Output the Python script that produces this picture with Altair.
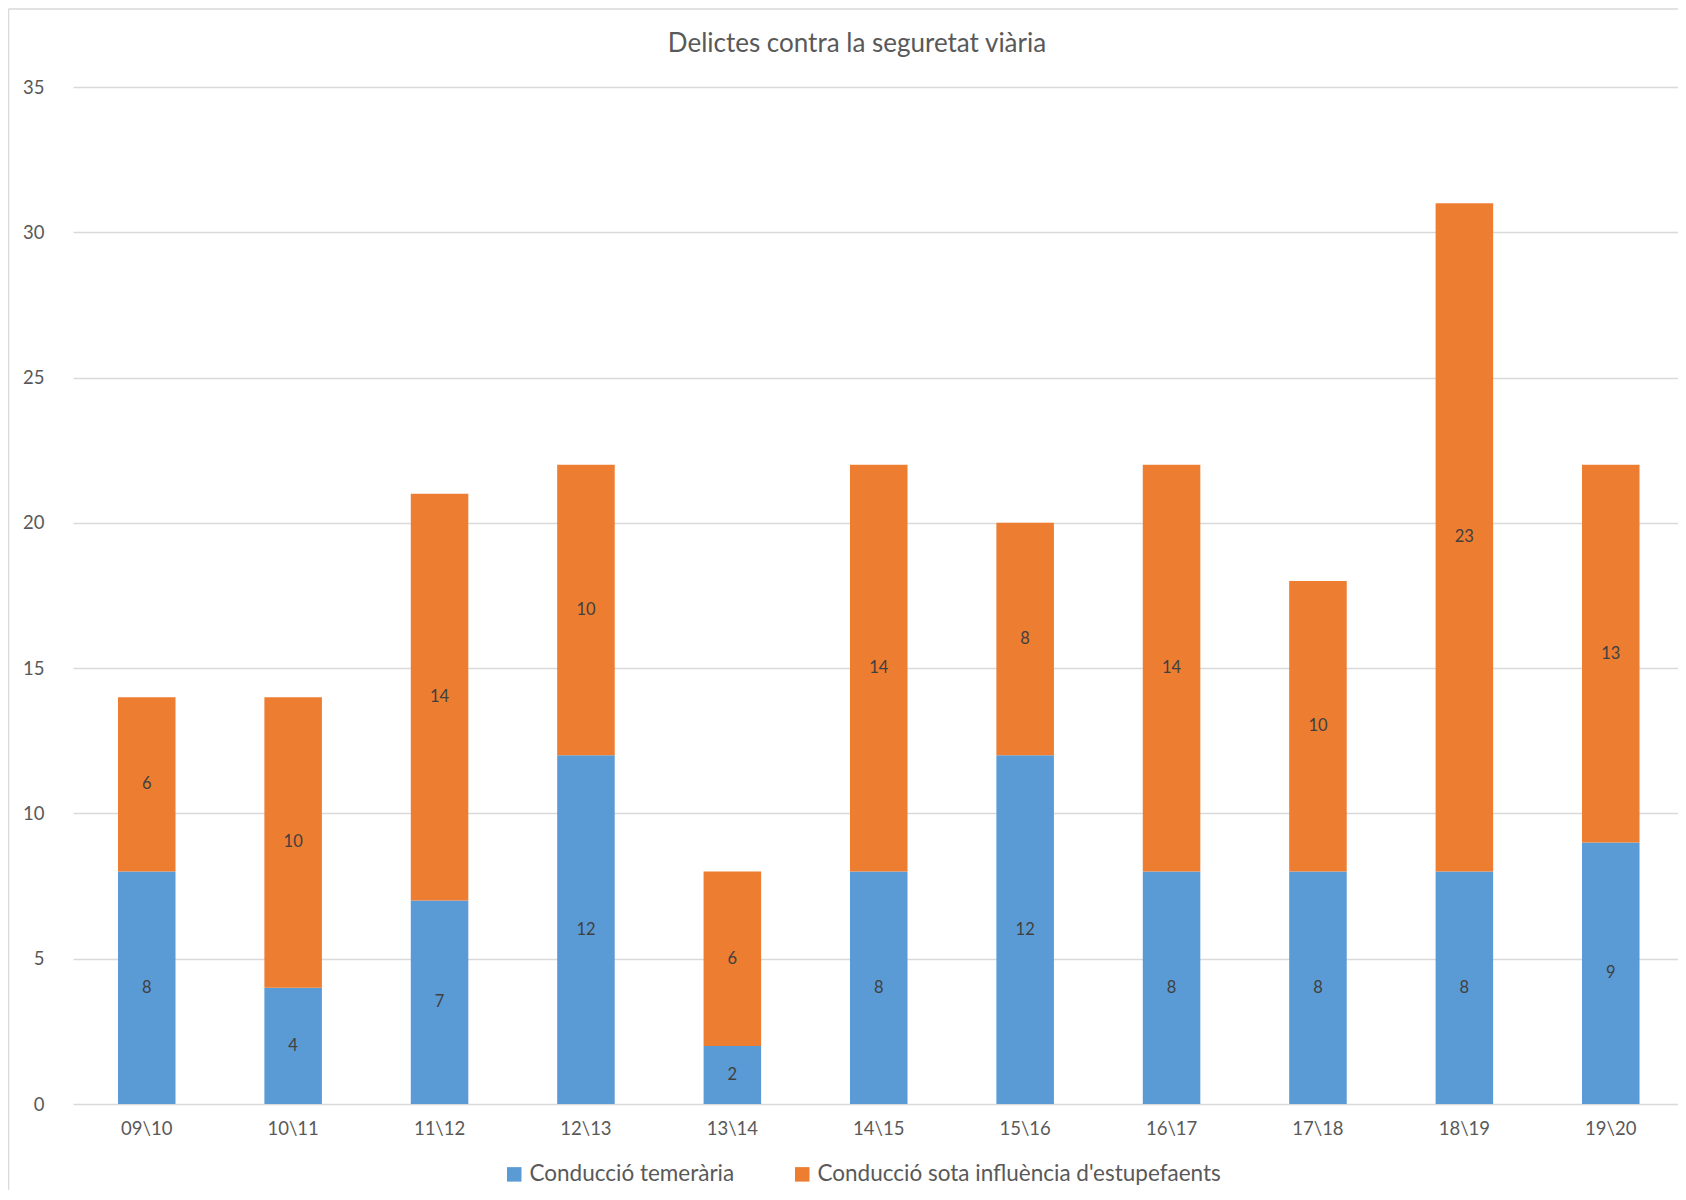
import altair as alt
import pandas as pd

categories = ["09\\10", "10\\11", "11\\12", "12\\13", "13\\14", "14\\15",
              "15\\16", "16\\17", "17\\18", "18\\19", "19\\20"]
temeraria = [8, 4, 7, 12, 2, 8, 12, 8, 8, 8, 9]
estupefaents = [6, 10, 14, 10, 6, 14, 8, 14, 10, 23, 13]
series_names = ["Conducció temerària", "Conducció sota influència d'estupefaents"]
colors = ["#5B9BD5", "#ED7D31"]
title_text = "Delictes contra la seguretat viària"

rows = []
for i, c in enumerate(categories):
    rows.append({"cat": c, "serie": series_names[0], "val": temeraria[i], "ord": 0,
                 "base": 0})
    rows.append({"cat": c, "serie": series_names[1], "val": estupefaents[i], "ord": 1,
                 "base": temeraria[i]})
df = pd.DataFrame(rows)
df["mid"] = df["base"] + df["val"] / 2

FONT = "Lato"
W, H = 1605, 1017

xscale = alt.Scale(domain=categories, paddingInner=0.607, paddingOuter=0.285, align=0.539)
yscale = alt.Scale(domain=[0, 35], nice=False)

bars = alt.Chart(df).mark_bar().encode(
    x=alt.X("cat:N", scale=xscale, sort=categories,
            axis=alt.Axis(title=None, labelAngle=0, labelFontSize=18.5, labelColor="#595959",
                          labelFont=FONT, ticks=False, domain=False, labelPadding=15)),
    y=alt.Y("sum(val):Q", stack="zero", scale=yscale,
            axis=alt.Axis(title=None, values=list(range(0, 36, 5)), labelFontSize=18.5,
                          labelColor="#595959", labelFont=FONT, ticks=False, domain=False,
                          grid=True, gridColor="#D9D9D9", gridWidth=1.3, labelPadding=29)),
    color=alt.Color("serie:N", scale=alt.Scale(domain=series_names, range=colors),
                    legend=alt.Legend(title=None, orient="none", direction="horizontal",
                                      legendX=430, legendY=1076, symbolType="square",
                                      symbolSize=210, symbolStrokeWidth=0, labelLimit=0,
                                      labelFontSize=22.5, labelFont=FONT, labelColor="#595959",
                                      columnPadding=56, symbolOffset=0, labelOffset=4)),
    order=alt.Order("ord:Q"),
)

labels = alt.Chart(df).mark_text(font=FONT, fontSize=16.5, color="#404040").encode(
    x=alt.X("cat:N", scale=xscale, sort=categories),
    y=alt.Y("mid:Q", scale=yscale),
    text=alt.Text("val:Q"),
)

one = pd.DataFrame({"t": [title_text]})
title = alt.Chart(one).mark_text(font=FONT, fontSize=26, color="#595959",
                                 baseline="alphabetic", align="center").encode(
    x=alt.value(784), y=alt.value(-35), text="t:N")

border_top = alt.Chart(one).mark_rule(color="#D9D9D9", strokeWidth=1.5).encode(
    x=alt.value(-64.5), x2=alt.value(W + 20), y=alt.value(-78))
border_left = alt.Chart(one).mark_rule(color="#D9D9D9", strokeWidth=1.5).encode(
    x=alt.value(-64.5), y=alt.value(-78), y2=alt.value(H + 120))

chart = alt.layer(bars, labels, title, border_top, border_left).properties(
    width=W, height=H,
    background="white",
    autosize=alt.AutoSizeParams(type="none"),
    padding={"left": 65, "top": 79, "right": 0, "bottom": 86},
).configure_view(strokeWidth=0, stroke="transparent")

chart.save("out.html", embed_options={"renderer": "svg", "actions": False})
